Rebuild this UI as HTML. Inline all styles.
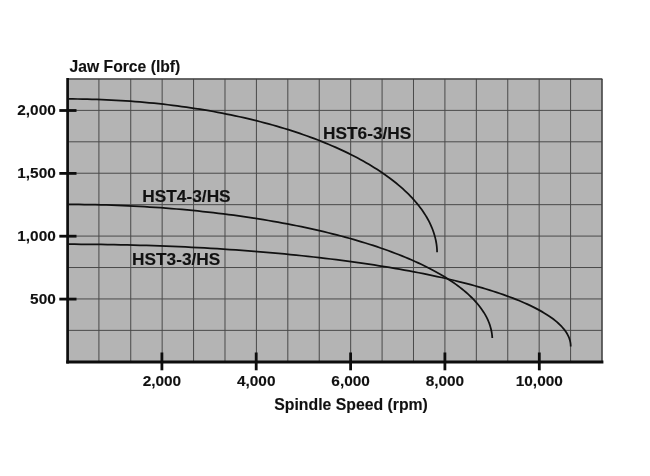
<!DOCTYPE html>
<html><head><meta charset="utf-8">
<style>
html,body{margin:0;padding:0;background:#fff;}
body{width:650px;height:476px;overflow:hidden;}
svg{display:block;will-change:transform;opacity:0.999;}
text{font-family:"Liberation Sans",sans-serif;font-weight:bold;fill:#111;stroke:#111;stroke-width:0.12px;}
</style></head>
<body>
<svg width="650" height="476" viewBox="0 0 650 476">
<rect x="0" y="0" width="650" height="476" fill="#ffffff"/>
<rect x="67.9" y="78.95" width="534.1" height="282.85" fill="#b4b4b4"/>
<g stroke="#4a4a4a" stroke-width="1" fill="none">
<line x1="98.92" y1="78.95" x2="98.92" y2="361.8"/>
<line x1="130.74" y1="78.95" x2="130.74" y2="361.8"/>
<line x1="162.15" y1="78.95" x2="162.15" y2="361.8"/>
<line x1="193.57" y1="78.95" x2="193.57" y2="361.8"/>
<line x1="224.99" y1="78.95" x2="224.99" y2="361.8"/>
<line x1="256.41" y1="78.95" x2="256.41" y2="361.8"/>
<line x1="287.82" y1="78.95" x2="287.82" y2="361.8"/>
<line x1="319.24" y1="78.95" x2="319.24" y2="361.8"/>
<line x1="350.66" y1="78.95" x2="350.66" y2="361.8"/>
<line x1="382.08" y1="78.95" x2="382.08" y2="361.8"/>
<line x1="413.49" y1="78.95" x2="413.49" y2="361.8"/>
<line x1="444.91" y1="78.95" x2="444.91" y2="361.8"/>
<line x1="476.33" y1="78.95" x2="476.33" y2="361.8"/>
<line x1="507.75" y1="78.95" x2="507.75" y2="361.8"/>
<line x1="539.16" y1="78.95" x2="539.16" y2="361.8"/>
<line x1="570.58" y1="78.95" x2="570.58" y2="361.8"/>
<line x1="602.00" y1="78.95" x2="602.00" y2="361.8"/>
<line x1="67.9" y1="78.95" x2="602.0" y2="78.95"/>
<line x1="67.9" y1="110.38" x2="602.0" y2="110.38"/>
<line x1="67.9" y1="141.81" x2="602.0" y2="141.81"/>
<line x1="67.9" y1="173.23" x2="602.0" y2="173.23"/>
<line x1="67.9" y1="204.66" x2="602.0" y2="204.66"/>
<line x1="67.9" y1="236.09" x2="602.0" y2="236.09"/>
<line x1="67.9" y1="267.52" x2="602.0" y2="267.52"/>
<line x1="67.9" y1="298.94" x2="602.0" y2="298.94"/>
<line x1="67.9" y1="330.37" x2="602.0" y2="330.37"/>
</g>
<g stroke="#3c3c3c" stroke-width="1.1" fill="none">
<line x1="67.9" y1="78.95" x2="602.5" y2="78.95"/>
<line x1="602.0" y1="78.95" x2="602.0" y2="361.8"/>
</g>
<g stroke="#0d0d0d" fill="none">
<line x1="67.6" y1="78.0" x2="67.6" y2="363.4" stroke-width="2.7"/>
<line x1="66.25" y1="362.0" x2="603.4" y2="362.0" stroke-width="2.8"/>
</g>
<g stroke="#0d0d0d" stroke-width="2.8" fill="none">
<line x1="161.9" y1="352.5" x2="161.9" y2="370.3"/>
<line x1="256.2" y1="352.5" x2="256.2" y2="370.3"/>
<line x1="350.6" y1="352.5" x2="350.6" y2="370.3"/>
<line x1="444.9" y1="352.5" x2="444.9" y2="370.3"/>
<line x1="539.3" y1="352.5" x2="539.3" y2="370.3"/>
<line x1="59.3" y1="110.5" x2="76.5" y2="110.5"/>
<line x1="59.3" y1="173.4" x2="76.5" y2="173.4"/>
<line x1="59.3" y1="236.2" x2="76.5" y2="236.2"/>
<line x1="59.3" y1="299.1" x2="76.5" y2="299.1"/>
</g>
<g stroke="#111" stroke-width="1.75" fill="none" stroke-linecap="butt">
<path d="M68.00,98.95 L72.82,98.96 L77.64,99.00 L82.45,99.07 L87.26,99.16 L92.07,99.28 L96.88,99.42 L101.68,99.60 L106.48,99.79 L111.27,100.02 L116.05,100.27 L120.82,100.55 L125.58,100.85 L130.34,101.18 L135.08,101.53 L139.81,101.92 L144.53,102.32 L149.24,102.76 L153.93,103.22 L158.61,103.70 L163.28,104.21 L167.92,104.75 L172.55,105.31 L177.16,105.90 L181.76,106.51 L186.33,107.15 L190.89,107.82 L195.42,108.51 L199.93,109.22 L204.42,109.96 L208.88,110.72 L213.33,111.51 L217.74,112.32 L222.13,113.16 L226.50,114.02 L230.84,114.90 L235.15,115.81 L239.43,116.74 L243.68,117.69 L247.90,118.67 L252.09,119.67 L256.25,120.70 L260.38,121.75 L264.48,122.81 L268.54,123.91 L272.57,125.02 L276.56,126.16 L280.52,127.31 L284.44,128.49 L288.32,129.70 L292.17,130.92 L295.98,132.16 L299.75,133.42 L303.48,134.71 L307.17,136.01 L310.82,137.34 L314.43,138.68 L317.99,140.04 L321.52,141.43 L325.00,142.83 L328.43,144.25 L331.83,145.69 L335.17,147.15 L338.48,148.62 L341.73,150.12 L344.94,151.63 L348.10,153.15 L351.22,154.70 L354.28,156.26 L357.30,157.84 L360.27,159.43 L363.18,161.04 L366.05,162.67 L368.87,164.31 L371.63,165.96 L374.35,167.63 L377.01,169.32 L379.62,171.02 L382.17,172.73 L384.67,174.45 L387.12,176.19 L389.52,177.94 L391.86,179.71 L394.14,181.48 L396.37,183.27 L398.54,185.07 L400.66,186.88 L402.71,188.70 L404.72,190.53 L406.66,192.37 L408.55,194.22 L410.38,196.08 L412.15,197.95 L413.86,199.83 L415.51,201.71 L417.11,203.61 L418.64,205.51 L420.12,207.42 L421.53,209.33 L422.89,211.25 L424.18,213.18 L425.41,215.11 L426.59,217.05 L427.70,218.99 L428.75,220.94 L429.74,222.89 L430.66,224.85 L431.53,226.80 L432.33,228.76 L433.07,230.72 L433.75,232.69 L434.37,234.65 L434.92,236.62 L435.41,238.58 L435.84,240.54 L436.21,242.50 L436.51,244.46 L436.75,246.41 L436.93,248.36 L437.04,250.29 L437.10,252.20"/>
<path d="M68.00,204.41 L73.49,204.42 L78.98,204.45 L84.47,204.51 L89.95,204.60 L95.43,204.71 L100.91,204.83 L106.38,204.99 L111.84,205.16 L117.30,205.36 L122.75,205.58 L128.19,205.82 L133.62,206.09 L139.04,206.38 L144.44,206.68 L149.84,207.02 L155.22,207.37 L160.58,207.74 L165.93,208.14 L171.27,208.56 L176.58,209.00 L181.88,209.46 L187.16,209.94 L192.42,210.45 L197.66,210.97 L202.87,211.52 L208.07,212.09 L213.24,212.67 L218.39,213.28 L223.51,213.91 L228.60,214.56 L233.67,215.23 L238.71,215.92 L243.72,216.64 L248.71,217.37 L253.66,218.12 L258.58,218.89 L263.47,219.68 L268.33,220.49 L273.15,221.32 L277.94,222.17 L282.69,223.04 L287.41,223.93 L292.09,224.83 L296.73,225.76 L301.34,226.70 L305.90,227.66 L310.43,228.64 L314.92,229.64 L319.36,230.66 L323.76,231.70 L328.12,232.75 L332.44,233.82 L336.71,234.91 L340.94,236.01 L345.12,237.13 L349.25,238.27 L353.34,239.43 L357.38,240.60 L361.37,241.79 L365.31,242.99 L369.21,244.22 L373.05,245.45 L376.84,246.70 L380.58,247.97 L384.27,249.26 L387.90,250.55 L391.48,251.87 L395.01,253.20 L398.48,254.54 L401.90,255.90 L405.26,257.27 L408.56,258.65 L411.81,260.05 L415.00,261.47 L418.13,262.89 L421.20,264.33 L424.22,265.78 L427.17,267.25 L430.06,268.73 L432.90,270.22 L435.67,271.72 L438.38,273.23 L441.03,274.76 L443.62,276.30 L446.14,277.85 L448.60,279.41 L451.00,280.98 L453.33,282.56 L455.60,284.15 L457.80,285.75 L459.94,287.37 L462.01,288.99 L464.02,290.62 L465.96,292.27 L467.83,293.92 L469.64,295.58 L471.37,297.25 L473.05,298.93 L474.65,300.61 L476.19,302.31 L477.65,304.02 L479.05,305.73 L480.38,307.45 L481.64,309.18 L482.84,310.91 L483.96,312.66 L485.01,314.41 L485.99,316.17 L486.91,317.94 L487.75,319.71 L488.52,321.50 L489.23,323.29 L489.86,325.09 L490.42,326.90 L490.91,328.71 L491.33,330.54 L491.68,332.38 L491.96,334.24 L492.16,336.11 L492.30,338.00"/>
<path d="M68.00,244.22 L74.58,244.23 L81.16,244.26 L87.74,244.30 L94.31,244.36 L100.88,244.44 L107.44,244.53 L114.00,244.64 L120.55,244.77 L127.09,244.91 L133.62,245.08 L140.13,245.26 L146.64,245.45 L153.13,245.66 L159.61,245.89 L166.07,246.14 L172.52,246.40 L178.94,246.68 L185.35,246.98 L191.74,247.30 L198.11,247.63 L204.45,247.97 L210.77,248.34 L217.07,248.72 L223.34,249.12 L229.59,249.53 L235.80,249.96 L241.99,250.41 L248.15,250.87 L254.28,251.35 L260.37,251.84 L266.44,252.35 L272.47,252.88 L278.46,253.42 L284.42,253.98 L290.34,254.55 L296.22,255.14 L302.06,255.75 L307.87,256.37 L313.63,257.00 L319.35,257.65 L325.03,258.32 L330.66,259.00 L336.25,259.70 L341.79,260.41 L347.29,261.13 L352.73,261.87 L358.13,262.62 L363.48,263.39 L368.78,264.17 L374.02,264.97 L379.22,265.78 L384.36,266.61 L389.45,267.44 L394.48,268.29 L399.45,269.16 L404.37,270.04 L409.23,270.93 L414.04,271.83 L418.78,272.75 L423.46,273.68 L428.08,274.62 L432.65,275.57 L437.14,276.54 L441.58,277.51 L445.95,278.50 L450.26,279.51 L454.50,280.52 L458.67,281.54 L462.78,282.58 L466.82,283.63 L470.79,284.68 L474.69,285.75 L478.53,286.83 L482.29,287.92 L485.98,289.02 L489.60,290.13 L493.15,291.25 L496.62,292.38 L500.02,293.52 L503.35,294.67 L506.60,295.83 L509.78,296.99 L512.88,298.17 L515.91,299.35 L518.86,300.54 L521.73,301.75 L524.52,302.95 L527.24,304.17 L529.88,305.40 L532.43,306.63 L534.91,307.87 L537.31,309.11 L539.63,310.37 L541.87,311.63 L544.02,312.89 L546.10,314.17 L548.09,315.45 L550.00,316.73 L551.83,318.03 L553.57,319.32 L555.23,320.63 L556.81,321.94 L558.30,323.25 L559.71,324.57 L561.04,325.89 L562.28,327.22 L563.44,328.56 L564.51,329.90 L565.50,331.24 L566.40,332.59 L567.22,333.94 L567.95,335.30 L568.59,336.66 L569.15,338.03 L569.62,339.40 L570.01,340.78 L570.31,342.16 L570.53,343.56 L570.66,344.96 L570.70,346.40"/>
</g>
<g font-size="15.4px">
<text x="161.9" y="386.2" text-anchor="middle">2,000</text>
<text x="256.2" y="386.2" text-anchor="middle">4,000</text>
<text x="350.6" y="386.2" text-anchor="middle">6,000</text>
<text x="444.9" y="386.2" text-anchor="middle">8,000</text>
<text x="539.3" y="386.2" text-anchor="middle">10,000</text>
<text x="55.8" y="115.0" text-anchor="end">2,000</text>
<text x="55.8" y="177.9" text-anchor="end">1,500</text>
<text x="55.8" y="240.7" text-anchor="end">1,000</text>
<text x="55.8" y="303.6" text-anchor="end">500</text>
</g>
<text x="69.6" y="72.3" font-size="15.7px">Jaw Force (lbf)</text>
<text x="351.1" y="410.3" font-size="15.8px" text-anchor="middle">Spindle Speed (rpm)</text>
<text x="323" y="138.8" font-size="17.3px">HST6-3/HS</text>
<text x="142.3" y="202" font-size="17.3px">HST4-3/HS</text>
<text x="132" y="264.5" font-size="17.3px">HST3-3/HS</text>
</svg>
</body></html>
